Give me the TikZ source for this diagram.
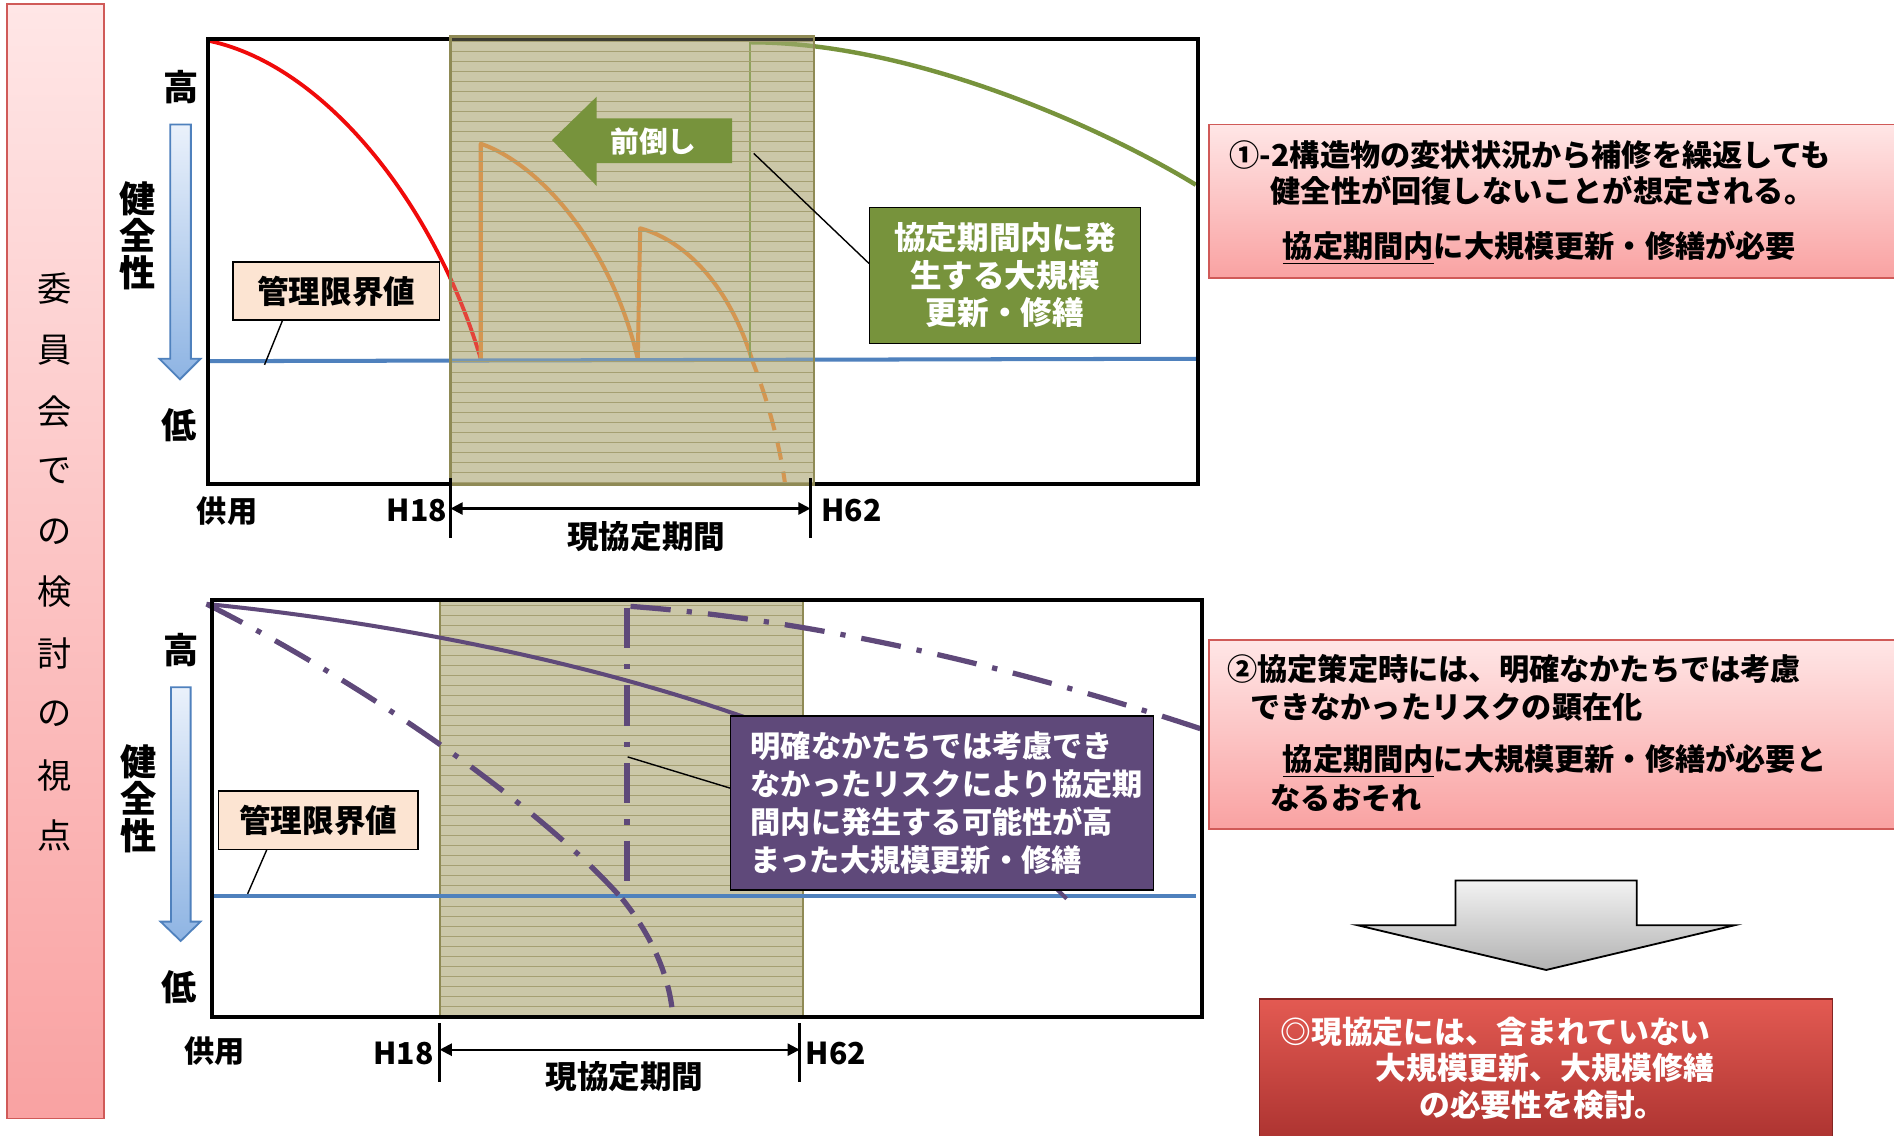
\documentclass[tikz,border=0pt]{standalone}
\usepackage{fontspec}
\setmainfont{Noto Sans CJK JP}
\usetikzlibrary{calc,arrows.meta}
\definecolor{pinktop}{HTML}{FFE6E6}
\definecolor{pinkbot}{HTML}{F9A2A2}
\definecolor{pinkedge}{HTML}{D05A58}
\definecolor{redtop}{HTML}{E35A52}
\definecolor{redbot}{HTML}{A52E2C}
\definecolor{graytop}{HTML}{F2F2F2}
\definecolor{graybot}{HTML}{B2B2B2}
\definecolor{bluetop}{HTML}{EAF1FB}
\definecolor{bluebot}{HTML}{8EB4E3}
\definecolor{blueedge}{HTML}{4F81BD}
\definecolor{limfill}{HTML}{FCE4D2}
\definecolor{purp}{HTML}{5F497A}
\definecolor{olive}{HTML}{77933C}
\definecolor{tanfill}{HTML}{CBC7A8}
\definecolor{tanline}{HTML}{A59F72}
\definecolor{tanedge}{HTML}{8F8A55}
\definecolor{curvered}{HTML}{F00A0A}
\definecolor{curveorange}{HTML}{D8822C}
\begin{document}
\begin{tikzpicture}[x=0.6pt,y=-0.6pt,
  every node/.style={inner sep=0pt,outer sep=0pt},
  vtext/.style={font=\fontsize{17}{17}\selectfont},
  axlbl/.style={font=\bfseries\fontsize{17.5}{18}\selectfont},
  axstack/.style={font=\bfseries\fontsize{18}{18.3}\selectfont,align=center},
  ticklbl/.style={font=\bfseries\fontsize{15}{18}\selectfont},
  periodlbl/.style={font=\bfseries\fontsize{15.7}{18}\selectfont},
  limbox/.style={draw=black,line width=0.8pt,fill=limfill,font=\bfseries\fontsize{15.7}{18}\selectfont},
  greenbox/.style={draw=black,line width=0.6pt,fill=olive,text=white,align=center,
     font=\bfseries\fontsize{15.7}{18.6}\selectfont},
  purpbox/.style={draw=black,line width=0.8pt,fill=purp,text=white,align=left,
     font=\bfseries\fontsize{15}{18.9}\selectfont},
  boxtext/.style={font=\bfseries\fontsize{15}{18}\selectfont,anchor=west},
  redtext/.style={font=\bfseries\fontsize{15.3}{18}\selectfont,text=white},
  chartframe/.style={draw=black,line width=1.9pt},
  limitline/.style={draw=blueedge,line width=2pt},
  hatchline/.style={draw=tanline,line width=0.4pt},
  leader/.style={draw=black,line width=0.7pt},
  dashdot/.style={draw=purp,line width=2.6pt,dash pattern=on 20pt off 8pt on 2.6pt off 8pt},
  tickline/.style={draw=black,line width=1.8pt},
  periodarrow/.style={draw=black,line width=1.1pt,{Triangle[length=6pt,width=6pt]}-{Triangle[length=6pt,width=6pt]}},
  downarrow/.style={draw=blueedge,line width=0.9pt,top color=bluetop,bottom color=bluebot},
]
\useasboundingbox (0,0) rectangle (1568,940);
\fill[white] (0,0) rectangle (1568,940);

% ---------------- left panel ----------------
\draw[draw=pinkedge,line width=0.9pt,top color=pinktop,bottom color=pinkbot] (5.5,3.5) rectangle (86,926);
\foreach \ch/\yy [count=\i] in {委/239,員/290,会/341,で/390,の/440,検/490,討/541,の/591,視/642,点/692}
  \node[vtext] (v\i) at (45,\yy) {\ch};

% ---------------- top chart ----------------
\fill[white] (172,32) rectangle (992,401);
\fill[tanfill] (373,30) rectangle (674,401);
\draw[curvered,line width=1.9pt] (174,34) .. controls (270,55) and (360,170) .. (398,297);
\draw[curveorange,line width=2pt,line join=round]
  (398,297) -- (398,119) .. controls (445,135) and (505,200) .. (528,297)
  -- (530,189) .. controls (570,200) and (605,240) .. (623,299);
\draw[curveorange,line width=2pt,dash pattern=on 9pt off 6pt,dash phase=3pt]
  (623,299) .. controls (635,330) and (645,365) .. (650,401);
\draw[olive,line width=1.2pt] (621,35) -- (621,299);
\draw[olive,line width=2.2pt] (621,35) .. controls (760,35) and (920,110) .. (990,153);
\draw[limitline] (172,299) -- (992,297);
\draw[chartframe] (172,32) rectangle (992,401);
\fill[tanfill,fill opacity=0.3] (373,30) rectangle (674,401);
\begin{scope}
  \clip (373,30) rectangle (674,401);
  \foreach \yy in {34,42.3,...,401} \draw[hatchline] (373,\yy) -- (674,\yy);
\end{scope}
\draw[tanedge,line width=1.3pt] (373,30) rectangle (674,401);

% 前倒し arrow
\fill[olive] (457,116) -- (494,80) -- (494,98) -- (606,98) -- (606,135) -- (494,135) -- (494,154) -- cycle;
\node[font=\bfseries\fontsize{14.3}{16}\selectfont,text=white] (maedaoshi) at (541,117) {前倒し};

% green callout
\node[greenbox,minimum width=135pt,minimum height=67.5pt] (gbox) at (832,228)
  {協定期間内に発\\生する大規模\\更新・修繕};
\coordinate (gtip) at (624,127);
\draw[leader] (gtip) -- (gbox.175);

% limit box top
\node[limbox,minimum width=102.6pt,minimum height=28.8pt] (lim1) at (278.5,241) {管理限界値};
\coordinate (lim1end) at (219,302);
\draw[leader] ($(lim1.south)+(-44.5,0)$) -- (lim1end);

% axis
\node[axlbl] (hi1) at (150,72) {高};
\node[axlbl] (lo1) at (148,352) {低};
\node[axstack] (ken1) at (114,195) {健\\全\\性};
\draw[downarrow] (141,103) -- (158,103) -- (158,297) -- (166,297) -- (149,314) -- (132,297) -- (141,297) -- cycle;

% time axis
\node[ticklbl] (kyo1) at (188,423) {供用};
\node[ticklbl,anchor=east] (h18a) at (370,423) {H18};
\node[ticklbl,anchor=west] (h62a) at (680,423) {H62};
\draw[tickline] (373,396) -- (373,445);
\draw[tickline] (671,396) -- (671,445);
\coordinate (pa1) at (373,421);
\coordinate (pb1) at (671,421);
\draw[periodarrow] (pa1) -- (pb1);
\node[periodlbl] (per1) at (535,444) {現協定期間};

% ---------------- bottom chart ----------------
\fill[white] (175.6,497) rectangle (995,842);
\fill[tanfill] (364,497) rectangle (665,842);
\begin{scope}
  \clip (364,497) rectangle (665,842);
  \foreach \yy in {501,509.3,...,842} \draw[hatchline] (364,\yy) -- (665,\yy);
\end{scope}
\draw[tanedge,line width=1pt] (364,497) -- (364,842) (665,497) -- (665,842);
\draw[limitline] (176,742) -- (990,742);
\draw[purp,line width=2pt] (171,500) .. controls (420,525) and (740,600) .. (883,744);
\draw[dashdot] (171,500) .. controls (290,560) and (440,660) .. (515,744);
\draw[purp,line width=2.6pt,dash pattern=on 11pt off 6pt,dash phase=2pt] (515,744) .. controls (540,775) and (555,810) .. (557,842);
\draw[dashdot] (519,503) -- (519,742);
\draw[dashdot] (522,502) .. controls (700,515) and (880,565) .. (999,605);
\draw[chartframe] (175.6,497) rectangle (995,842);

% purple callout
\node[purpbox,text width=190pt,inner xsep=10pt,minimum height=86.6pt] (pbox) at (779.8,664.8)
  {明確なかたちでは考慮でき\\なかったリスクにより協定期\\間内に発生する可能性が高\\まった大規模更新・修繕};
\coordinate (ptip) at (519.6,626.6);
\draw[leader] (ptip) -- (pbox.176);

% limit box bottom
\node[limbox,minimum width=99pt,minimum height=29pt] (lim2) at (263.5,679) {管理限界値};
\coordinate (lim2end) at (205,740);
\draw[leader] ($(lim2.south)+(-42.5,0)$) -- (lim2end);

% axis
\node[axlbl] (hi2) at (149.7,538) {高};
\node[axlbl] (lo2) at (148,817) {低};
\node[axstack] (ken2) at (114.6,661) {健\\全\\性};
\draw[downarrow] (141.5,569) -- (157.8,569) -- (157.8,763) -- (166,763) -- (149.6,779) -- (133,763) -- (141.5,763) -- cycle;

% time axis
\node[ticklbl] (kyo2) at (177.4,870) {供用};
\node[ticklbl,anchor=east] (h18b) at (359,872) {H18};
\node[ticklbl,anchor=west] (h62b) at (667,872) {H62};
\draw[tickline] (364,847) -- (364,896);
\draw[tickline] (662,847) -- (662,896);
\coordinate (pa2) at (364,869);
\coordinate (pb2) at (662,869);
\draw[periodarrow] (pa2) -- (pb2);
\node[periodlbl] (per2) at (517,891) {現協定期間};

% ---------------- right side ----------------
\draw[draw=pinkedge,line width=0.9pt,top color=pinktop,bottom color=pinkbot] (1001,103) rectangle (1580,230);
\node[boxtext] (b1l1) at (1018,128) {①-2構造物の変状状況から補修を繰返しても};
\node[boxtext] (b1l2) at (1052,158) {健全性が回復しないことが想定される。};
\node[boxtext] (b1l3) at (1062,205) {\underline{協定期間内}に大規模更新・修繕が必要};

\draw[draw=pinkedge,line width=0.9pt,top color=pinktop,bottom color=pinkbot] (1001,530) rectangle (1580,686);
\node[boxtext] (b2l1) at (1016,554) {②協定策定時には、明確なかたちでは考慮};
\node[boxtext] (b2l2) at (1035,585) {できなかったリスクの顕在化};
\node[boxtext] (b2l3) at (1062,630) {\underline{協定期間内}に大規模更新・修繕が必要と};
\node[boxtext] (b2l4) at (1052,661) {なるおそれ};

\draw[draw=black,line width=0.9pt,top color=graytop,bottom color=graybot]
  (1205,729) -- (1355,729) -- (1355,766) -- (1436,766) -- (1280,803) -- (1124,766) -- (1205,766) -- cycle;

\draw[draw=redbot!80!black,line width=0.6pt,top color=redtop,bottom color=redbot] (1043,827) rectangle (1517,960);
\node[redtext,anchor=west] (r1) at (1060,854) {◎現協定には、含まれていない};
\node[redtext] (r2) at (1279,884) {大規模更新、大規模修繕};
\node[redtext] (r3) at (1277,915) {の必要性を検討。};
\end{tikzpicture}
\end{document}
